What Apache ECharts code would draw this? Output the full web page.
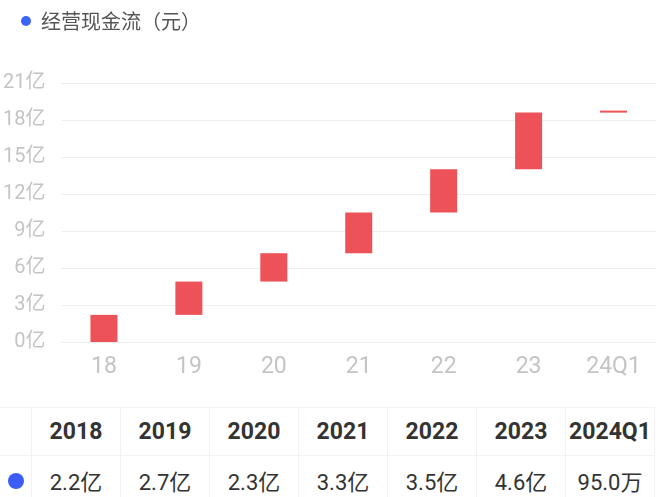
<!DOCTYPE html>
<html>
<head>
<meta charset="utf-8">
<script src="https://cdn.jsdelivr.net/npm/echarts@6/dist/echarts.min.js"></script>
<style>
  body { margin: 0; background: #fff; font-family: Roboto, "Noto Sans CJK SC", sans-serif; }
  .wrap { position: relative; width: 660px; height: 497px; overflow: hidden; }
  #chart { position: absolute; left: 0; top: 0; width: 660px; height: 400px; }
  table { position: absolute; left: 0; top: 407px; border-collapse: collapse; table-layout: fixed; }
  td { border: 1px solid #f2f2f2; height: 47px; padding: 0; text-align: center; color: #333; font-size: 22px; white-space: nowrap; }
  tr.head td { font-weight: bold; font-size: 23px; }
  td.first { border-left: none; width: 31px; }
  .dot { display: inline-block; width: 16px; height: 16px; border-radius: 50%; background: #3b5cf5; vertical-align: middle; }
</style>
</head>
<body>
<div class="wrap">
  <div id="chart"></div>
  <table id="tbl"></table>
</div>
<script>
const seriesName = '经营现金流（元）'
const categories = ['18', '19', '20', '21', '22', '23', '24Q1']
const years = ['2018', '2019', '2020', '2021', '2022', '2023', '2024Q1']
const values = [2.2, 2.7, 2.3, 3.3, 3.5, 4.6, 0.0095]   // 亿
const valueLabels = ['2.2亿', '2.7亿', '2.3亿', '3.3亿', '3.5亿', '4.6亿', '95.0万']

// waterfall base = running total before each item
const base = []
let sum = 0
values.forEach(v => { base.push(sum); sum += v })

const chart = echarts.init(document.getElementById('chart'))

const option = {
  animation: false,
  legend: {
    left: 16,
    top: 6,
    itemWidth: 20,
    itemHeight: 10,
    icon: 'circle',
    textStyle: { fontSize: 20, color: '#555', fontFamily: '"Noto Sans CJK SC", sans-serif' },
    data: [{ name: seriesName, itemStyle: { color: '#3b66f5' } }]
  },
  grid: { left: 61, right: 4, top: 83, bottom: 58 },
  xAxis: {
    type: 'category',
    data: categories,
    axisTick: { show: false },
    axisLine: { lineStyle: { color: '#eeeeee' } },
    axisLabel: { color: '#c4c4c4', fontSize: 23, margin: 14, fontFamily: 'Roboto, sans-serif' }
  },
  yAxis: {
    type: 'value',
    min: 0,
    max: 21,
    interval: 3,
    axisLine: { show: false },
    axisTick: { show: false },
    splitLine: { lineStyle: { color: '#eeeeee' } },
    axisLabel: {
      color: '#c4c4c4', fontSize: 20, margin: 16,
      fontFamily: 'Roboto, "Noto Sans CJK SC", sans-serif',
      formatter: '{value}亿'
    }
  },
  series: [
    {
      name: 'base',
      type: 'bar',
      stack: 'w',
      barWidth: 27,
      itemStyle: { color: 'transparent' },
      silent: true,
      data: base
    },
    {
      name: seriesName,
      type: 'bar',
      stack: 'w',
      barWidth: 27,
      barMinHeight: 2,
      itemStyle: { color: '#ec5257' },
      data: values
    }
  ]
}

chart.setOption(option)

// table under the chart
const tbl = document.getElementById('tbl')
let head = '<tr class="head"><td class="first"></td>'
years.forEach(y => { head += '<td style="width:88px">' + y + '</td>' })
head += '</tr>'
let row = '<tr><td class="first"><span class="dot"></span></td>'
valueLabels.forEach(v => { row += '<td>' + v + '</td>' })
row += '</tr>'
tbl.innerHTML = head + row

window.addEventListener('resize', () => chart.resize())
</script>
</body>
</html>
